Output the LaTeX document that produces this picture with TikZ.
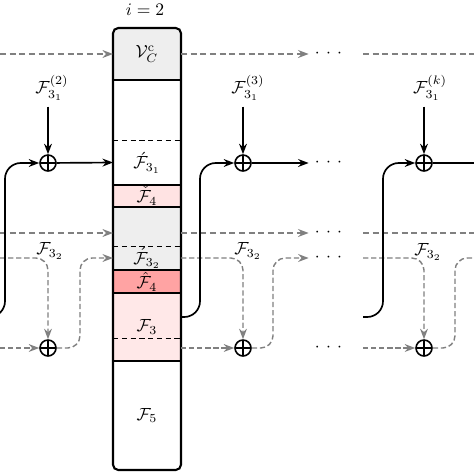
\documentclass[tikz,border=0pt]{standalone}
\usepackage{amsmath}
\usetikzlibrary{arrows.meta}
\def\mcolleft{113}
\def\mcolright{181}
\def\mcolwidth{1.36cm}
\def\mbuscolor{gray}
\def\mgraycolor{gray!13}
\def\mcheckcolor{red!11}
\def\mhatcolor{red!36}
\def\mfthreecolor{red!9}
\newcommand{\mdots}{${\cdot}\hskip3.6pt{\cdot}\hskip3.6pt{\cdot}$}
\tikzset{
  seg/.style={minimum width=\mcolwidth, inner sep=0pt, outer sep=0pt},
  sumnode/.style={circle, draw, line width=0.9pt, minimum size=0.32cm, inner sep=0pt,
    path picture={\draw[line width=0.9pt] (path picture bounding box.north) -- (path picture bounding box.south)
      (path picture bounding box.west) -- (path picture bounding box.east);}},
  flow/.style={line width=0.95pt, -{Stealth[length=6pt, width=4.5pt, inset=2pt]}},
  bus/.style={line width=1pt, draw=\mbuscolor, dash pattern=on 3.5pt off 2pt},
  busarrow/.style={bus, -{Stealth[length=6pt, width=4.5pt, inset=2pt, fill=gray!55]}},
  fb/.style={line width=0.8pt, draw=\mbuscolor, dash pattern=on 3pt off 1.6pt},
  fbarrow/.style={fb, -{Stealth[length=6pt, width=4.5pt, inset=2pt, fill=gray!55]}},
}

\begin{document}
\begin{tikzpicture}[x=0.02cm, y=-0.02cm]
  \useasboundingbox (0,0) rectangle (474,474);
  \node (iter) at (145,10) {$i=2$};
  % the column
  \begin{scope}
    \clip[rounded corners=3pt] (\mcolleft,28) rectangle (\mcolright,470);
    \node[seg, fill=\mgraycolor, minimum height=1.04cm] (vc) at (147,54) {$\mathcal{V}_C^{\mathrm{c}}$};
    \node[seg, minimum height=0.9cm] (f31) at (147,162.5) {$\acute{\mathcal{F}}_{3_1}$};
    \node[seg, fill=\mcheckcolor, minimum height=0.44cm] (f4c) at (147,196) {$\check{\mathcal{F}}_4$};
    \node[seg, fill=\mgraycolor, minimum height=0.78cm] (gup) at (147,226.5) {};
    \node[seg, fill=\mgraycolor, minimum height=0.48cm] (f32) at (147,258) {$\acute{\mathcal{F}}_{3_2}$};
    \node[seg, fill=\mhatcolor, minimum height=0.46cm] (f4h) at (147,281.5) {$\hat{\mathcal{F}}_4$};
    \node[seg, fill=\mfthreecolor, minimum height=1.36cm] (f3) at (147,327) {$\mathcal{F}_3$};
    \node[seg, minimum height=2.18cm] (f5) at (147,415.5) {$\mathcal{F}_5$};
  \end{scope}
  \draw[thick] (vc.south west) -- (vc.south east);
  \draw[densely dashed] (f31.north west) -- (f31.north east);
  \draw[thick] (f31.south west) -- (f31.south east);
  \draw[thick] (f4c.south west) -- (f4c.south east);
  \draw[densely dashed] (f32.north west) -- (f32.north east);
  \draw[thick] (f32.south west) -- (f32.south east);
  \draw[thick] (f4h.south west) -- (f4h.south east);
  \draw[densely dashed] (\mcolleft,338) -- (\mcolright,338);
  \draw[thick] (f5.north west) -- (f5.north east);
  \draw[line width=1.2pt, rounded corners=3pt] (\mcolleft,28) rectangle (\mcolright,470);

  % sums
  \node[sumnode] (sum1) at (48,163) {};
  \node[sumnode] (sum2) at (243,163) {};
  \node[sumnode] (sum3) at (424,163) {};
  \node[sumnode] (fbsum1) at (48,348) {};
  \node[sumnode] (fbsum2) at (243,348) {};
  \node[sumnode] (fbsum3) at (424,348) {};
  \node (top1) at (52,88) {$\mathcal{F}_{3_1}^{(2)}$};
  \node (top2) at (248,88) {$\mathcal{F}_{3_1}^{(3)}$};
  \node (top3) at (430,88) {$\mathcal{F}_{3_1}^{(k)}$};
  \node (lab1) at (50,251) {$\mathcal{F}_{3_2}$};
  \node (lab2) at (248,251) {$\mathcal{F}_{3_2}$};
  \node (lab3) at (428,252) {$\mathcal{F}_{3_2}$};
  \foreach \y in {54,163,233,258,348}
    \node (dots\y) at (328.5,\y) {\mdots};

  % free ends
  \coordinate (w54) at (0,54);
  \coordinate (k54) at (363,54);
  \coordinate (e54) at (474,54);
  \coordinate (w233) at (0,233);
  \coordinate (k233) at (363,233);
  \coordinate (e233) at (474,233);
  \coordinate (w258) at (0,258);
  \coordinate (k258) at (363,258);
  \coordinate (e258) at (474,258);
  \coordinate (w348) at (0,348);
  \coordinate (k348) at (363,348);
  \coordinate (e163) at (474,163);
  \coordinate (w317) at (-12,317);
  \coordinate (k317) at (363,317);

  % buses
  \draw[busarrow] (w54) -- (vc.west);
  \draw[busarrow] (vc.east) -- (dots54.west);
  \draw[bus] (k54) -- (e54);
  \draw[busarrow] (w233) -- (w233 -| gup.west);
  \draw[busarrow] (k233 -| gup.east) -- (dots233.west);
  \draw[bus] (k233) -- (e233);

  % feedback loops
  \draw[fbarrow, rounded corners=7pt] (w258) -| (fbsum1);
  \draw[fbarrow, rounded corners=7pt] (fbsum1) -| (80,258) -- (f32.west);
  \draw[fbarrow] (w348) -- (fbsum1);
  \draw[fbarrow, rounded corners=7pt] (f32.east) -| (fbsum2);
  \draw[fbarrow, rounded corners=7pt] (fbsum2) -| (273,258) -- (dots258.west);
  \draw[fbarrow] (fbsum2 -| f3.east) -- (fbsum2);
  \draw[fbarrow, rounded corners=7pt] (k258) -| (fbsum3);
  \draw[fb, rounded corners=7pt] (fbsum3) -| (455,258) -- (e258);
  \draw[fbarrow] (k348) -- (fbsum3);

  % main path
  \draw[flow] (top1.south -| sum1) -- (sum1);
  \draw[flow] (top2.south -| sum2) -- (sum2);
  \draw[flow] (top3.south -| sum3) -- (sum3);
  \draw[flow, rounded corners=9pt] (w317) -| (5,163) -- (sum1);
  \draw[flow] (sum1) -- (f31.west);
  \draw[flow, rounded corners=9pt] ([yshift=0.2cm]f3.east) -| (200,163) -- (sum2);
  \draw[flow] (sum2) -- (dots163.west);
  \draw[flow, rounded corners=9pt] (k317) -| (383,163) -- (sum3);
  \draw[line width=0.95pt] (sum3) -- (e163);
\end{tikzpicture}
\end{document}
